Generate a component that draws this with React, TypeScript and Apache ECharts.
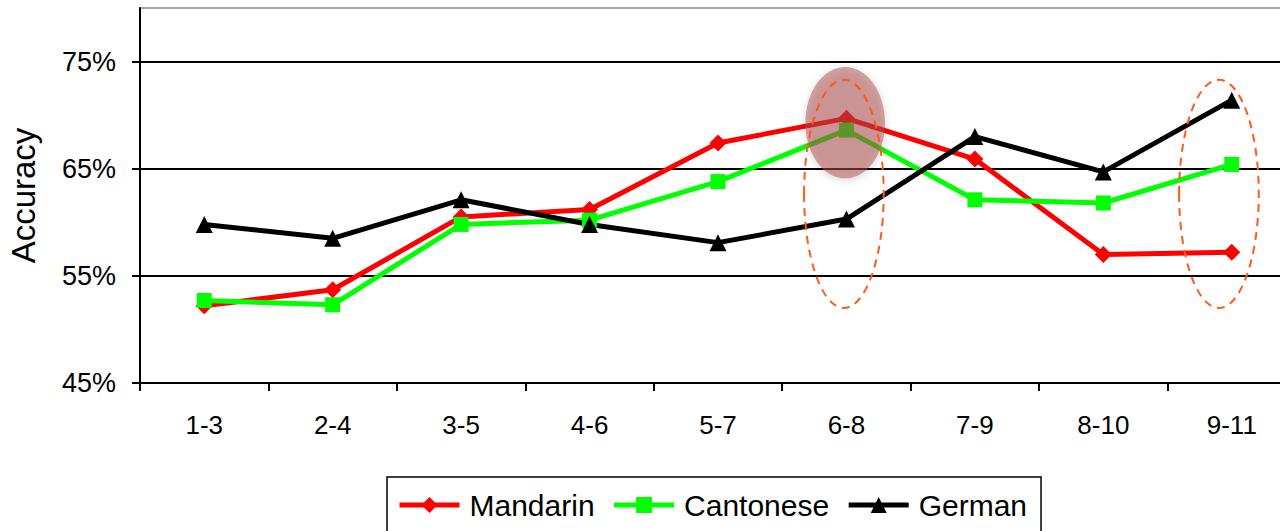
import React, { useEffect, useRef } from "react";
import * as echarts from "echarts";

const categories = ["1-3", "2-4", "3-5", "4-6", "5-7", "6-8", "7-9", "8-10", "9-11"];
const mandarin = [52.2, 53.7, 60.5, 61.2, 67.4, 69.7, 65.9, 57.0, 57.2];
const cantonese = [52.7, 52.3, 59.8, 60.2, 63.8, 68.6, 62.1, 61.8, 65.4];
const german = [59.8, 58.5, 62.1, 59.8, 58.1, 60.3, 68.0, 64.7, 71.4];
const yTicks = [45, 55, 65, 75];

// annotation ellipses: category index, x offset (fraction of band), top value, bottom value
const highlight = { cat: 5, dx: -0.01, top: 74.5, bottom: 64.1 };
const dashed = [
  { cat: 5, dx: -0.02, top: 73.3, bottom: 52.0 },
  { cat: 8, dx: -0.1, top: 73.3, bottom: 52.0 },
];

const FONT = "'Liberation Sans', Arial, sans-serif";

export default function App() {
  const ref = useRef<HTMLDivElement>(null);
  useEffect(() => {
    if (!ref.current) return;
    const chart = echarts.init(ref.current, undefined, { renderer: "svg" });
    chart.setOption({
      animation: false,
      backgroundColor: "#ffffff",
      grid: {
        left: 140,
        top: 8,
        width: 1156,
        height: 375,
        outerBoundsMode: "none",
        containLabel: false,
        show: true,
        borderColor: "#8a8a8a",
        borderWidth: 1.5,
      },
      legend: {
        top: 477,
        left: 387,
        orient: "horizontal",
        padding: [10, 14, 14, 10],
        borderColor: "#000",
        borderWidth: 1.5,
        itemGap: 17,
        itemWidth: 60,
        itemHeight: 20,
        lineStyle: { width: 5 },
        textStyle: {
          fontFamily: FONT,
          fontSize: 30,
          color: "#000",
          lineHeight: 36,
          padding: [0, 0, 0, 5],
        },
        data: ["Mandarin", "Cantonese", "German"],
      },
      xAxis: {
        type: "category",
        data: categories,
        boundaryGap: true,
        axisLine: { lineStyle: { color: "#000", width: 2 } },
        axisTick: { show: true, interval: 0, length: 8, lineStyle: { color: "#000", width: 2 } },
        axisLabel: { color: "#000", fontSize: 26, fontFamily: FONT, margin: 29, interval: 0 },
        splitLine: { show: false },
      },
      yAxis: {
        type: "value",
        min: 45,
        max: 80,
        interval: 10,
        name: "Accuracy",
        nameLocation: "middle",
        nameRotate: 90,
        nameGap: 100,
        nameTextStyle: { color: "#000", fontSize: 33, fontFamily: FONT },
        axisLine: { show: true, lineStyle: { color: "#000", width: 2 } },
        axisTick: { show: true, length: 8, customValues: yTicks, lineStyle: { color: "#000", width: 2 } },
        axisLabel: {
          color: "#000",
          fontSize: 27,
          fontFamily: FONT,
          margin: 24,
          customValues: yTicks,
          formatter: (v: number) => v + "%",
        },
        splitLine: { show: true, lineStyle: { color: "#000", width: 2 } },
      },
      series: [
        {
          name: "Mandarin",
          type: "line",
          data: mandarin,
          symbol: "diamond",
          symbolSize: 17,
          itemStyle: { color: "#ff0000" },
          lineStyle: { color: "#ff0000", width: 5 },
          z: 3,
        },
        {
          name: "Cantonese",
          type: "line",
          data: cantonese,
          symbol: "rect",
          symbolSize: 15,
          itemStyle: { color: "#00ff00" },
          lineStyle: { color: "#00ff00", width: 5 },
          z: 3,
        },
        {
          name: "German",
          type: "line",
          data: german,
          symbol: "triangle",
          symbolSize: 17,
          itemStyle: { color: "#000000" },
          lineStyle: { color: "#000000", width: 5 },
          z: 3,
        },
      ],
    });

    const px = (cat: number, v: number) => chart.convertToPixel({ gridIndex: 0 }, [cat, v]) as number[];
    const band = px(1, 50)[0] - px(0, 50)[0];
    const ell = (a: { cat: number; dx: number; top: number; bottom: number }) => {
      const t = px(a.cat, a.top);
      const b = px(a.cat, a.bottom);
      return { cx: t[0] + a.dx * band, cy: (t[1] + b[1]) / 2, rx: band * 0.31, ry: Math.abs(b[1] - t[1]) / 2 };
    };
    const h = ell(highlight);
    chart.setOption({
      graphic: [
        {
          type: "ellipse",
          z: 10,
          shape: h,
          style: {
            fill: "rgba(173,75,75,0.5)",
            shadowBlur: 8,
            shadowColor: "rgba(0,0,0,0.3)",
            shadowOffsetY: 2,
          },
        },
        ...dashed.map((d) => ({
          type: "ellipse",
          z: 11,
          shape: ell(d),
          style: { fill: "none", stroke: "#ff5a1a", lineWidth: 2, lineDash: [8, 6] },
        })),
      ],
    });

    return () => chart.dispose();
  }, []);
  return (
    <div
      ref={ref}
      style={{ position: "fixed", left: 0, top: 0, width: 1280, height: 531 }}
    />
  );
}
